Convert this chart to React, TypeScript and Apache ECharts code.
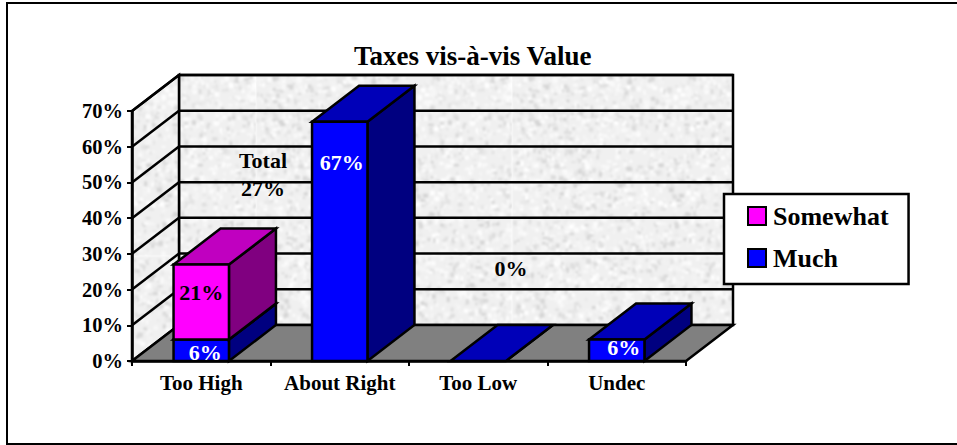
import React, { useEffect, useRef } from "react";
import * as echarts from "echarts";

const categories = ["Too High", "About Right", "Too Low", "Undec"];
const muchValues = [6, 67, 0, 6];
const somewhatValues: (number | null)[] = [21, null, null, null];
const axisTicks = [0, 10, 20, 30, 40, 50, 60, 70];
const titleText = "Taxes vis-à-vis Value";
const FONT = '"Liberation Serif", "Times New Roman", serif';
const DX = 47;
const DY = 36;
const LW = 2.5;

function makeStone(): HTMLCanvasElement {
  const size = 256;
  const raw = document.createElement("canvas");
  raw.width = raw.height = size;
  const c = raw.getContext("2d") as CanvasRenderingContext2D;
  c.fillStyle = "#f0f0f0";
  c.fillRect(0, 0, size, size);
  let seed = 12345;
  const next = () => {
    seed = (seed * 1103515245 + 12345) & 0x7fffffff;
    return seed / 0x7fffffff;
  };
  for (let i = 0; i < 3000; i++) {
    const g = Math.round(next() < 0.4 ? 212 + next() * 22 : 242 + next() * 13);
    c.fillStyle = `rgb(${g},${g},${g})`;
    c.fillRect(next() * size, next() * size, 1.5 + next() * 4, 1.5 + next() * 4);
  }
  const out = document.createElement("canvas");
  out.width = out.height = size;
  const o = out.getContext("2d") as CanvasRenderingContext2D;
  o.filter = "blur(1px)";
  o.drawImage(raw, 0, 0);
  return out;
}

function poly(points: number[][], fill: any, z2 = 0) {
  return { type: "polygon", z2, shape: { points }, style: { fill, stroke: "#000", lineWidth: LW, lineJoin: "miter" } };
}
function line(x1: number, y1: number, x2: number, y2: number, z2 = 2) {
  return { type: "line", z2, shape: { x1, y1, x2, y2 }, style: { stroke: "#000", lineWidth: LW, fill: "none" } };
}
function label(text: string, x: number, y: number, fill: string, size = 22) {
  return {
    type: "text",
    z2: 10,
    style: { text, x, y, fill, align: "center", verticalAlign: "middle", font: `bold ${size}px ${FONT}` },
  };
}

function barRender(colors: { front: string; top: string; side: string }, baseOf: (i: number) => number, textFill: string, offsets: number[][]) {
  return (params: any, api: any) => {
    const idx = api.value(0);
    const val = api.value(1);
    if (val == null || isNaN(val)) return null;
    const base = baseOf(params.dataIndex);
    const bottom = api.coord([idx, base]);
    const top = api.coord([idx, base + val]);
    const w = api.size([1, 0])[0] * 0.4;
    const l = bottom[0] - w / 2;
    const r = bottom[0] + w / 2;
    const yb = bottom[1];
    const yt = top[1];
    const children: any[] = [
      poly([[r, yb], [r + DX, yb - DY], [r + DX, yt - DY], [r, yt]], colors.side),
      poly([[l, yt], [l + DX, yt - DY], [r + DX, yt - DY], [r, yt]], colors.top),
    ];
    if (val > 0) {
      children.push(poly([[l, yb], [r, yb], [r, yt], [l, yt]], colors.front));
      const off = offsets[params.dataIndex];
      children.push(label(`${val}%`, bottom[0] + off[0], (yb + yt) / 2 + off[1], textFill));
    }
    return { type: "group", children };
  };
}

export default function App() {
  const ref = useRef<HTMLDivElement>(null);
  useEffect(() => {
    document.body.style.margin = "0";
    const chart = echarts.init(ref.current as HTMLDivElement, undefined, { renderer: "svg" });
    const stone = { image: makeStone(), repeat: "repeat" };

    const wallRender = (params: any, api: any) => {
      const g = params.coordSys;
      const v = api.value(1);
      const y = api.coord([0, v])[1];
      const x0 = g.x;
      const x1 = g.x + g.width;
      const children: any[] = [];
      if (params.dataIndex === 0) {
        const yBase = g.y + g.height;
        children.push(
          poly([[x0 + DX, g.y - DY], [x1 + DX, g.y - DY], [x1 + DX, yBase - DY], [x0 + DX, yBase - DY]], stone, 0),
          poly([[x0, yBase], [x0 + DX, yBase - DY], [x0 + DX, g.y - DY], [x0, g.y]], stone, 0),
          poly([[x0, yBase], [x0 + DX, yBase - DY], [x1 + DX, yBase - DY], [x1, yBase]], "#808080", 1)
        );
      } else {
        children.push(line(x0, y, x0 + DX, y - DY), line(x0 + DX, y - DY, x1 + DX, y - DY));
      }
      return { type: "group", children };
    };

    chart.setOption({
      animation: false,
      backgroundColor: "#fff",
      title: {
        text: titleText,
        left: 354,
        top: 42,
        textStyle: { fontFamily: FONT, fontWeight: "bold", fontSize: 27, color: "#000" },
        padding: 0,
      },
      grid: { left: 132, top: 111, width: 554, height: 250 },
      xAxis: {
        type: "category",
        data: categories,
        z: 3,
        axisLine: { lineStyle: { color: "#000", width: LW } },
        axisTick: { show: true, length: 5, interval: 0, alignWithLabel: false, lineStyle: { color: "#000", width: 2 } },
        axisLabel: { color: "#000", fontFamily: FONT, fontWeight: "bold", fontSize: 21, margin: 11, interval: 0, hideOverlap: false },
        splitLine: { show: false },
      },
      yAxis: {
        type: "value",
        min: 0,
        max: 70,
        interval: 10,
        z: 3,
        axisLine: { show: true, lineStyle: { color: "#000", width: LW } },
        axisTick: { show: true, length: 5, lineStyle: { color: "#000", width: 2 } },
        axisLabel: { color: "#000", fontFamily: FONT, fontWeight: "bold", fontSize: 20.5, margin: 9, formatter: "{value}%" },
        splitLine: { show: false },
      },
      legend: {
        orient: "vertical",
        left: 724,
        top: 194,
        padding: [9, 20, 13, 23],
        itemWidth: 18,
        itemHeight: 18,
        itemGap: 16,
        icon: "rect",
        selectedMode: false,
        backgroundColor: "#fff",
        borderColor: "#000",
        borderWidth: LW,
        borderRadius: 0,
        data: ["Somewhat", "Much"],
        textStyle: { fontFamily: FONT, fontWeight: "bold", fontSize: 26, color: "#000", padding: [0, 0, 0, 2] },
      },
      series: [
        {
          name: "Walls",
          type: "custom",
          z: 1,
          silent: true,
          renderItem: wallRender,
          encode: { x: 0, y: 1 },
          data: axisTicks.map((t) => [0, t]),
        },
        {
          name: "Much",
          type: "custom",
          z: 2,
          silent: true,
          itemStyle: { color: "#0000FF", borderColor: "#000", borderWidth: LW },
          renderItem: barRender(
            { front: "#0000FF", top: "#0000B8", side: "#000080" },
            () => 0,
            "#fff",
            [[4, 2], [2, -79], [0, 0], [7, -3]]
          ),
          encode: { x: 0, y: 1 },
          data: muchValues.map((v, i) => [i, v]),
        },
        {
          name: "Somewhat",
          type: "custom",
          z: 2,
          silent: true,
          itemStyle: { color: "#FF00FF", borderColor: "#000", borderWidth: LW },
          renderItem: barRender(
            { front: "#FF00FF", top: "#C000C0", side: "#800080" },
            (i) => muchValues[i],
            "#000",
            [[0, -10]]
          ),
          encode: { x: 0, y: 1 },
          data: somewhatValues.map((v, i) => [i, v]),
        },
      ],
      graphic: [
        { type: "rect", silent: true, z: 0, shape: { x: 7, y: 3, width: 1000, height: 441 }, style: { fill: "none", stroke: "#000", lineWidth: 2 } },
        label("Total", 263, 160, "#000"),
        label("27%", 263, 188, "#000"),
        label("0%", 511, 268, "#000"),
      ].map((g: any) => (g.type === "text" ? { ...g, z: 5 } : g)),
    });
    return () => chart.dispose();
  }, []);
  return <div ref={ref} style={{ width: 957, height: 445 }} />;
}
